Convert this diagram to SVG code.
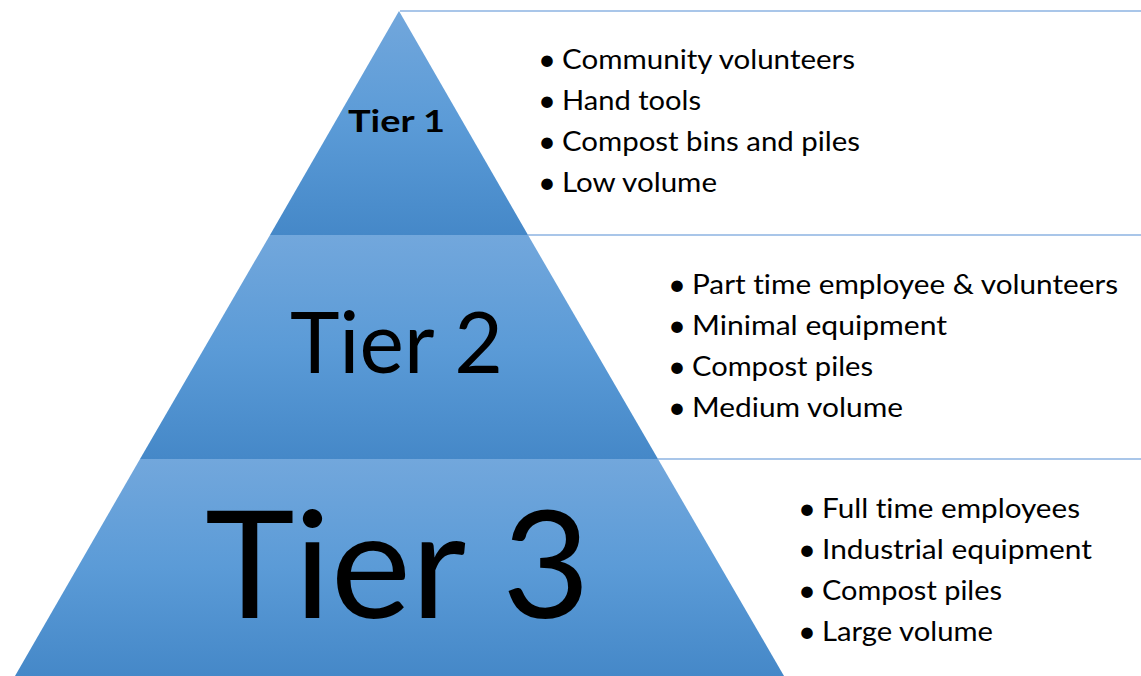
<svg xmlns="http://www.w3.org/2000/svg" width="1141" height="676" viewBox="0 0 1141 676">
  <defs>
    <linearGradient id="tierGrad" x1="0" y1="0" x2="0" y2="1">
      <stop offset="0" stop-color="#72a7dc"/>
      <stop offset="0.5" stop-color="#5b9bd7"/>
      <stop offset="1" stop-color="#4588c8"/>
    </linearGradient>
    <style>
      .tier { fill: url(#tierGrad); stroke: none; }
      .label { font-family: Lato, "Open Sans", "Liberation Sans", sans-serif; fill: #000; font-variant-ligatures: none; }
      .item { font-family: Lato, "Open Sans", "Liberation Sans", sans-serif; font-size: 27px; fill: #000; font-variant-ligatures: none; }
      .dot { font-size: 31px; }
      .rule { stroke: #8db3e2; stroke-width: 1.5; fill: none; }
    </style>
  </defs>
  <rect width="1141" height="676" fill="#ffffff"/>

  <g id="connectors">
    <line class="rule" x1="400" y1="11" x2="1141" y2="11"/>
    <line class="rule" x1="528" y1="235" x2="1141" y2="235"/>
    <line class="rule" x1="658" y1="459" x2="1141" y2="459"/>
  </g>

  <g id="tier1">
    <polygon class="tier" points="399,11 270,235 528,235"/>
    <text class="label" x="348" y="132" font-size="31" font-weight="bold" textLength="97" lengthAdjust="spacingAndGlyphs">Tier 1</text>
    <g class="item">
      <text class="dot" x="538" y="70">•</text><text x="562" y="69" textLength="293" lengthAdjust="spacingAndGlyphs">Community volunteers</text>
      <text class="dot" x="538" y="111">•</text><text x="562" y="110" textLength="139" lengthAdjust="spacingAndGlyphs">Hand tools</text>
      <text class="dot" x="538" y="152">•</text><text x="562" y="151" textLength="298" lengthAdjust="spacingAndGlyphs">Compost bins and piles</text>
      <text class="dot" x="538" y="193">•</text><text x="562" y="192" textLength="155" lengthAdjust="spacingAndGlyphs">Low volume</text>
    </g>
  </g>

  <g id="tier2">
    <polygon class="tier" points="270,235 528,235 658,459 140,459"/>
    <text class="label" x="290" y="373" font-size="85" textLength="213" lengthAdjust="spacingAndGlyphs">Tier 2</text>
    <g class="item">
      <text class="dot" x="668" y="295">•</text><text x="692" y="294" textLength="426" lengthAdjust="spacingAndGlyphs">Part time employee &amp; volunteers</text>
      <text class="dot" x="668" y="336">•</text><text x="692" y="335" textLength="255" lengthAdjust="spacingAndGlyphs">Minimal equipment</text>
      <text class="dot" x="668" y="377">•</text><text x="692" y="376" textLength="181" lengthAdjust="spacingAndGlyphs">Compost piles</text>
      <text class="dot" x="668" y="418">•</text><text x="692" y="417" textLength="211" lengthAdjust="spacingAndGlyphs">Medium volume</text>
    </g>
  </g>

  <g id="tier3">
    <polygon class="tier" points="140,459 658,459 784,676 15,676"/>
    <text class="label" x="205" y="618" font-size="150" textLength="385" lengthAdjust="spacingAndGlyphs">Tier 3</text>
    <g class="item">
      <text class="dot" x="798" y="519">•</text><text x="822" y="518" textLength="258" lengthAdjust="spacingAndGlyphs">Full time employees</text>
      <text class="dot" x="798" y="560">•</text><text x="822" y="559" textLength="270" lengthAdjust="spacingAndGlyphs">Industrial equipment</text>
      <text class="dot" x="798" y="601">•</text><text x="822" y="600" textLength="180" lengthAdjust="spacingAndGlyphs">Compost piles</text>
      <text class="dot" x="798" y="642">•</text><text x="822" y="641" textLength="171" lengthAdjust="spacingAndGlyphs">Large volume</text>
    </g>
  </g>
</svg>
